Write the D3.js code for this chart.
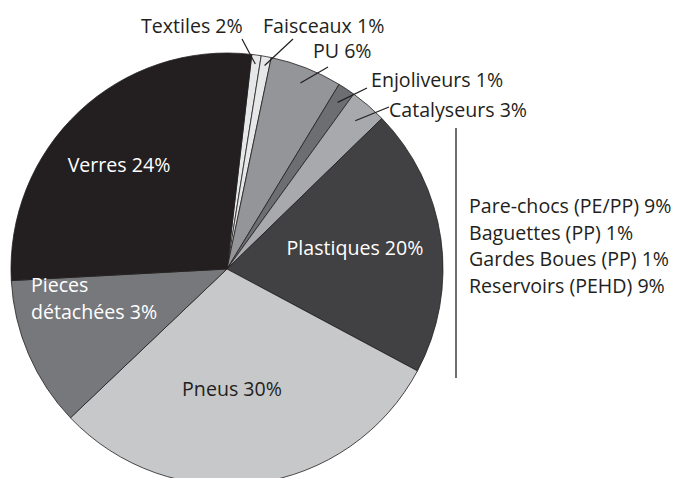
<!DOCTYPE html>
<html>
<head>
<meta charset="utf-8">
<script src="https://cdn.jsdelivr.net/npm/d3@7"></script>
<style>
  body { margin: 0; background: #fff; }
  svg text { font-family: "Open Sans", "Noto Sans", sans-serif; }
</style>
</head>
<body>
<div id="chart"></div>
<script>
// slices, clockwise from just right of 12 o'clock
const categories = ["Textiles", "Faisceaux", "PU", "Enjoliveurs", "Catalyseurs", "Plastiques", "Pneus", "Pieces détachées", "Verres"]
const labels = ["Textiles 2%", "Faisceaux 1%", "PU 6%", "Enjoliveurs 1%", "Catalyseurs 3%", "Plastiques 20%", "Pneus 30%", "Pieces|détachées 3%", "Verres 24%"]
// slice shares (%)
const shares = [0.7, 0.75, 5.4, 1.3, 2.75, 20.1, 30.1, 11.25, 27.7]
const colors = ["#e6e7e8", "#e6e7e8", "#939598", "#6d6e71", "#a7a9ac", "#414042", "#c7c8ca", "#77787b", "#231f20"]
const plasticDetail = ["Pare-chocs (PE/PP) 9%", "Baguettes (PP) 1%", "Gardes Boues (PP) 1%", "Reservoirs (PEHD) 9%"]

width = 678
height = 478
cx = 227
cy = 269
radius = 216
startDeg = 6.6

svg = d3.select("#chart").append("svg")
    .attr("width", width)
    .attr("height", height)

pieGen = d3.pie()
    .sort(null)
    .value(d => d)
    .startAngle(startDeg * Math.PI / 180)
    .endAngle(startDeg * Math.PI / 180 + 2 * Math.PI)

arcs = pieGen(shares)
arcGen = d3.arc().innerRadius(0).outerRadius(radius)

g = svg.append("g").attr("transform", "translate(" + cx + "," + cy + ")")

g.selectAll("path")
    .data(arcs)
    .enter()
    .append("path")
    .attr("d", arcGen)
    .attr("fill", (d, i) => colors[i])
    .attr("stroke", "#231f20")
    .attr("stroke-width", 0.8)
    .attr("stroke-linejoin", "round")

// labels sitting inside the big slices
inside = {
    5: {x: 128, y: -14, anchor: "middle", fill: "#fff"},
    6: {x: 5, y: 127, anchor: "middle", fill: "#231f20"},
    7: {x: -196, y: 23, anchor: "start", fill: "#fff", lh: 26.6},
    8: {x: -108, y: -97, anchor: "middle", fill: "#fff"}
}
// small slices get outside labels with a leader line: text start, baseline, line end
outside = {
    0: {tx: -86, ty: -236, lx: 15, ly: -230, r: 207},
    1: {tx: 36, ty: -236, lx: 66, ly: -230, r: 207},
    2: {tx: 86, ty: -211, lx: 101, ly: -202, r: 200},
    3: {tx: 144, ty: -182, lx: 140, ly: -181, r: 200},
    4: {tx: 162, ty: -152, lx: 162, ly: -162, r: 196}
}

fontSize = 19.6

Object.entries(inside).forEach(([i, p]) => {
    var lines = labels[i].split("|")
    var t = g.append("text")
        .attr("text-anchor", p.anchor)
        .attr("fill", p.fill)
        .style("font-size", fontSize + "px")
    lines.forEach((ln, k) => {
        t.append("tspan")
            .attr("x", p.x)
            .attr("y", p.y + k * (p.lh || 0))
            .text(ln)
    })
})

Object.entries(outside).forEach(([i, p]) => {
    var a = arcs[i]
    var mid = (a.startAngle + a.endAngle) / 2
    var ix = Math.sin(mid) * p.r
    var iy = -Math.cos(mid) * p.r
    g.append("line")
        .attr("x1", ix).attr("y1", iy)
        .attr("x2", p.lx).attr("y2", p.ly)
        .attr("stroke", "#231f20")
        .attr("stroke-width", 1.2)
    g.append("text")
        .attr("x", p.tx)
        .attr("y", p.ty)
        .attr("fill", "#231f20")
        .style("font-size", fontSize + "px")
        .text(labels[i])
})

// bracket line and breakdown of the plastics
svg.append("line")
    .attr("x1", 456).attr("x2", 456)
    .attr("y1", 128).attr("y2", 378)
    .attr("stroke", "#231f20")
    .attr("stroke-width", 1.3)

svg.append("g")
    .selectAll("text")
    .data(plasticDetail)
    .enter()
    .append("text")
    .attr("x", 469)
    .attr("y", (d, i) => 212.7 + i * 26.8)
    .attr("fill", "#231f20")
    .style("font-size", fontSize + "px")
    .text(d => d)
</script>
</body>
</html>
